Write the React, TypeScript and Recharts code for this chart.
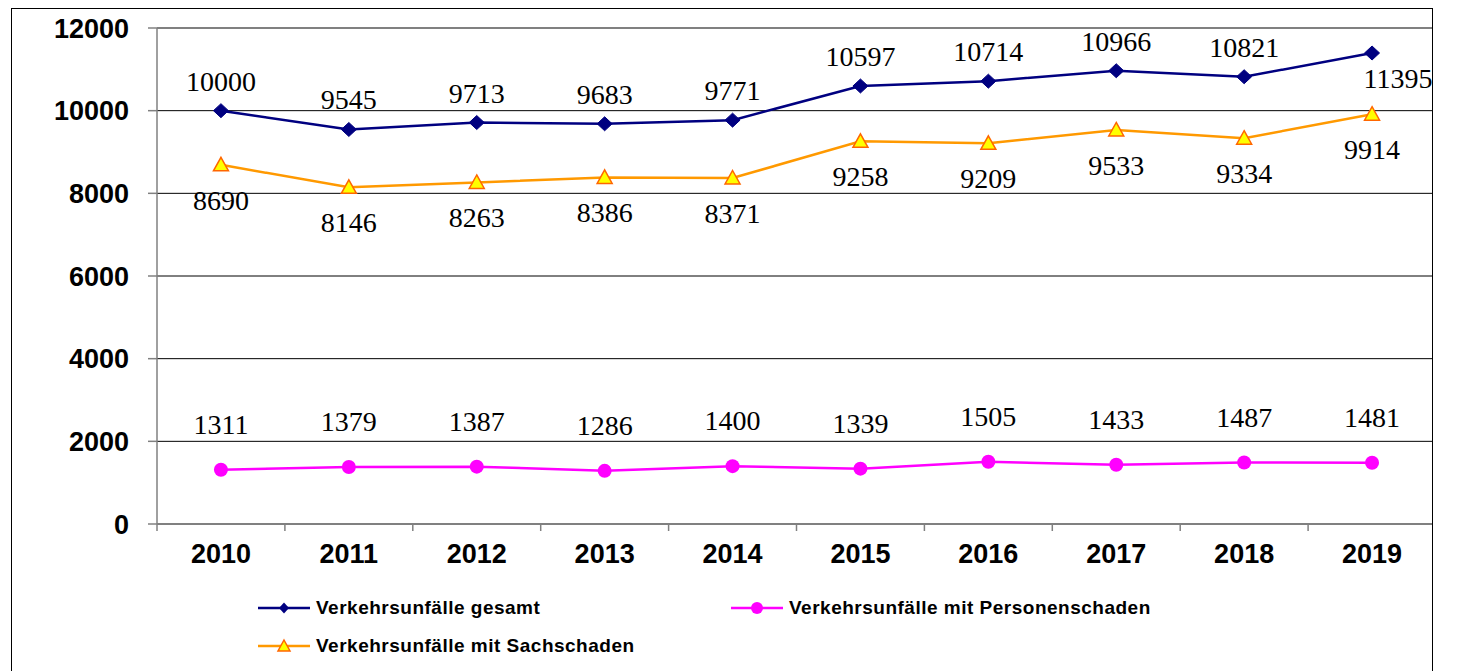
import React from "react";
import { CartesianGrid, Line, LineChart, ReferenceLine, XAxis, YAxis } from "recharts";

const years = ["2010", "2011", "2012", "2013", "2014", "2015", "2016", "2017", "2018", "2019"];
const gesamt = [10000, 9545, 9713, 9683, 9771, 10597, 10714, 10966, 10821, 11395];
const personenschaden = [1311, 1379, 1387, 1286, 1400, 1339, 1505, 1433, 1487, 1481];
const sachschaden = [8690, 8146, 8263, 8386, 8371, 9258, 9209, 9533, 9334, 9914];
const yTicks = [0, 2000, 4000, 6000, 8000, 10000, 12000];

const data = years.map((year, i) => ({
  year,
  gesamt: gesamt[i],
  personen: personenschaden[i],
  sach: sachschaden[i],
}));

const NAVY = "#000080";
const ORANGE = "#FF9900";
const MAGENTA = "#FF00FF";
const AXIS_GRAY = "#808080";

const Y_AXIS_W = 145;
const PLOT_W = 1279;
const PLOT_H = 496;
const HALF_BAND = PLOT_W / years.length / 2;

const sansBold = { fontFamily: "'Liberation Sans', Arial, sans-serif", fontWeight: 700 };
const serif = "'Liberation Serif', 'Times New Roman', serif";

const YearTick = (props: any) => {
  const { x, y, payload } = props;
  return (
    <g>
      <line x1={x - HALF_BAND} y1={y} x2={x - HALF_BAND} y2={y + 7} stroke={AXIS_GRAY} strokeWidth={1.5} />
      <text x={x} y={y + 39} textAnchor="middle" fontSize={27} fill="#000" style={sansBold}>
        {payload.value}
      </text>
    </g>
  );
};

// data labels: same offset for a whole series, the last gesamt label sits below right
const valueLabel = (dy: number, lastDx = 0, lastDy?: number) => (props: any) => {
  const { x, y, value, index } = props;
  const isLast = lastDy !== undefined && index === years.length - 1;
  return (
    <text
      key={`l-${index}`}
      x={x + (isLast ? lastDx : 0)}
      y={y + (isLast ? lastDy : dy)}
      textAnchor="middle"
      fontSize={28}
      fontFamily={serif}
      fill="#000"
    >
      {value}
    </text>
  );
};

const Diamond = (props: any) => {
  const { cx, cy, index } = props;
  return (
    <path
      key={`d-${index}`}
      d={`M${cx},${cy - 7} L${cx + 7.5},${cy} L${cx},${cy + 7} L${cx - 7.5},${cy} Z`}
      fill={NAVY}
      stroke={NAVY}
    />
  );
};

const Triangle = (props: any) => {
  const { cx, cy, index } = props;
  return (
    <path
      key={`t-${index}`}
      d={`M${cx},${cy - 7.5} L${cx + 7.5},${cy + 6} L${cx - 7.5},${cy + 6} Z`}
      fill="#FFFF00"
      stroke="#FF6600"
      strokeWidth={1.5}
    />
  );
};

const legendItems = [
  { name: "Verkehrsunfälle gesamt", color: NAVY, marker: "diamond" },
  { name: "Verkehrsunfälle mit Personenschaden", color: MAGENTA, marker: "circle" },
  { name: "Verkehrsunfälle mit Sachschaden", color: ORANGE, marker: "triangle" },
];

const LegendMarker = ({ color, marker }: { color: string; marker: string }) => (
  <svg width={52} height={18} style={{ display: "block" }}>
    <line x1={0} y1={9} x2={52} y2={9} stroke={color} strokeWidth={2.5} />
    {marker === "diamond" && <path d="M26,3.5 L31,9 L26,14.5 L21,9 Z" fill={color} />}
    {marker === "circle" && <circle cx={26} cy={9} r={6} fill={color} />}
    {marker === "triangle" && <path d="M26,3 L32,14 L20,14 Z" fill="#FFFF00" stroke="#FF6600" strokeWidth={1.5} />}
  </svg>
);

const ChartLegend = () => (
  <div
    style={{
      position: "absolute",
      left: 246,
      top: 580,
      display: "grid",
      gridTemplateColumns: "473px auto",
      gridAutoRows: "38px",
      alignItems: "center",
    }}
  >
    {legendItems.map((item) => (
      <div key={item.name} style={{ display: "flex", alignItems: "center" }}>
        <LegendMarker color={item.color} marker={item.marker} />
        <span style={{ ...sansBold, fontSize: 19, letterSpacing: 0.5, marginLeft: 6, color: "#000" }}>
          {item.name}
        </span>
      </div>
    ))}
  </div>
);

export default function App() {
  const chartH = 600;
  const xAxisH = 60;
  return (
    <div
      style={{
        position: "fixed",
        left: 11,
        top: 8,
        width: 1420,
        height: 680,
        borderLeft: "1px solid #000",
        borderTop: "1px solid #000",
        borderRight: "1px solid #000",
        overflow: "hidden",
        background: "#fff",
      }}
    >
      <LineChart
        width={Y_AXIS_W + PLOT_W + 6}
        height={chartH}
        data={data}
        margin={{ top: 19, right: 6, left: 0, bottom: chartH - 19 - PLOT_H - xAxisH }}
      >
        <CartesianGrid vertical={false} stroke="#000" strokeWidth={1} />
        <XAxis
          dataKey="year"
          height={xAxisH}
          padding={{ left: HALF_BAND, right: HALF_BAND }}
          axisLine={{ stroke: AXIS_GRAY, strokeWidth: 1.5 }}
          tickLine={false}
          tickSize={0}
          tickMargin={0}
          interval={0}
          tick={<YearTick />}
        />
        <YAxis
          width={Y_AXIS_W}
          domain={[0, 12000]}
          ticks={yTicks}
          interval={0}
          axisLine={{ stroke: AXIS_GRAY, strokeWidth: 1.5 }}
          tickLine={{ stroke: AXIS_GRAY, strokeWidth: 1.5 }}
          tickSize={9}
          tickMargin={19}
          tick={{ fontSize: 27, fill: "#000", ...sansBold }}
        />
        <ReferenceLine y={12000} stroke={AXIS_GRAY} strokeWidth={1.5} />
        <Line
          dataKey="gesamt"
          name="Verkehrsunfälle gesamt"
          stroke={NAVY}
          strokeWidth={2.5}
          dot={<Diamond />}
          label={valueLabel(-20, 26, 35)}
          isAnimationActive={false}
        />
        <Line
          dataKey="sach"
          name="Verkehrsunfälle mit Sachschaden"
          stroke={ORANGE}
          strokeWidth={2.5}
          dot={<Triangle />}
          label={valueLabel(45)}
          isAnimationActive={false}
        />
        <Line
          dataKey="personen"
          name="Verkehrsunfälle mit Personenschaden"
          stroke={MAGENTA}
          strokeWidth={2.5}
          dot={{ r: 7, fill: MAGENTA, stroke: MAGENTA, strokeWidth: 0 }}
          label={valueLabel(-36)}
          isAnimationActive={false}
        />
      </LineChart>
      <ChartLegend />
    </div>
  );
}
